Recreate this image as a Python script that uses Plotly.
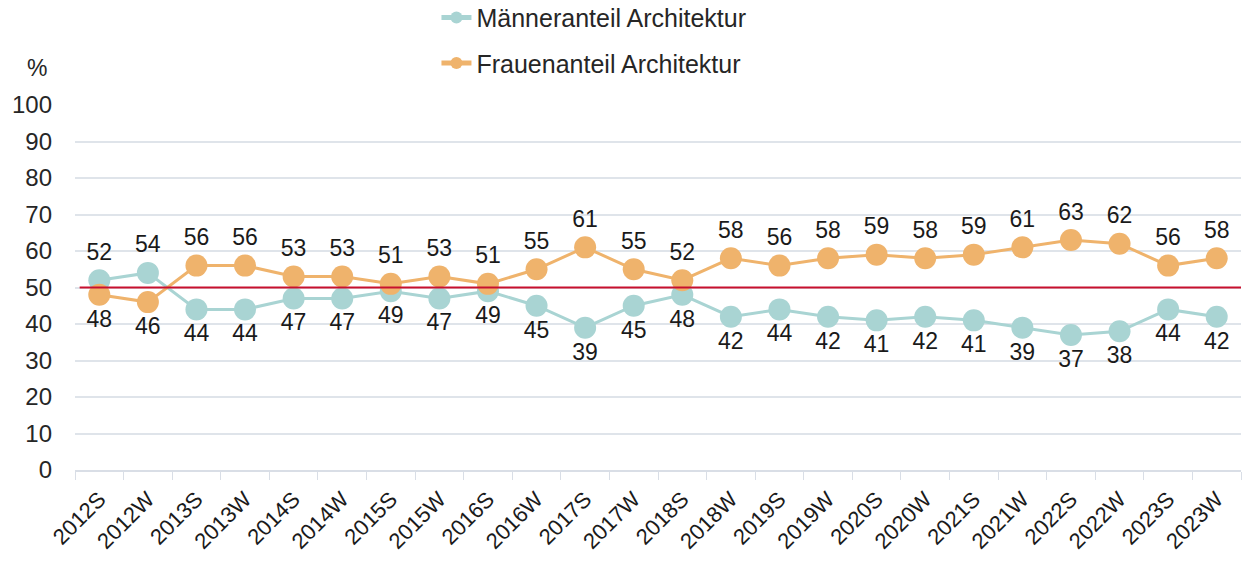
import plotly.graph_objects as go

semester = ["2012S", "2012W", "2013S", "2013W", "2014S", "2014W", "2015S", "2015W",
            "2016S", "2016W", "2017S", "2017W", "2018S", "2018W", "2019S", "2019W",
            "2020S", "2020W", "2021S", "2021W", "2022S", "2022W", "2023S", "2023W"]
maenner = [52, 54, 44, 44, 47, 47, 49, 47, 49, 45, 39, 45, 48, 42, 44, 42, 41, 42, 41, 39, 37, 38, 44, 42]
frauen = [48, 46, 56, 56, 53, 53, 51, 53, 51, 55, 61, 55, 52, 58, 56, 58, 59, 58, 59, 61, 63, 62, 56, 58]
referenz = 50

FONT = "Liberation Sans, Arial, sans-serif"
TEAL = "#a9d4d3"
ORANGE = "#efb36c"
TEXT = "#262626"

# labels of the upper series go above the point, the lower ones below
pos_m = ["top center" if m > f else "bottom center" for m, f in zip(maenner, frauen)]
pos_f = ["top center" if f > m else "bottom center" for m, f in zip(maenner, frauen)]

fig = go.Figure()
fig.add_trace(go.Scatter(
    x=semester, y=maenner, name="Männeranteil Architektur", mode="lines+markers+text",
    legendgroup="m",
    line=dict(color=TEAL, width=3), marker=dict(color=TEAL, size=22),
    text=[str(v) for v in maenner], textposition=pos_m,
    textfont=dict(family=FONT, size=23, color="#1a1a1a"), cliponaxis=False))
fig.add_trace(go.Scatter(
    x=semester, y=frauen, name="Frauenanteil Architektur", mode="lines+markers+text",
    legendgroup="f",
    line=dict(color=ORANGE, width=3), marker=dict(color=ORANGE, size=22),
    text=[str(v) for v in frauen], textposition=pos_f,
    textfont=dict(family=FONT, size=23, color="#1a1a1a"), cliponaxis=False))

fig.add_shape(type="line", xref="paper", x0=0.004, x1=1, yref="y", y0=referenz, y1=referenz,
              line=dict(color="#c8102e", width=2), layer="above")

# unit label above the y axis
fig.add_annotation(text="%", xref="paper", yref="paper", x=-0.033, y=1.101,
                   xanchor="center", yanchor="middle",
                   showarrow=False, font=dict(family=FONT, size=23, color=TEXT))

fig.update_layout(
    width=1243, height=566,
    margin=dict(l=75, r=2, t=105, b=96, autoexpand=False),
    paper_bgcolor="white", plot_bgcolor="white",
    font=dict(family=FONT, size=20, color=TEXT),
    showlegend=True,
    legend=dict(x=0.31, y=1.302, xanchor="left", yanchor="top",
                font=dict(family=FONT, size=25, color=TEXT),
                traceorder="grouped", tracegroupgap=10,
                itemsizing="constant", bgcolor="rgba(0,0,0,0)"),
    xaxis=dict(type="category", range=[-0.5, len(semester) - 0.5], tickangle=-45,
               tickson="boundaries", ticks="outside", ticklen=8, tickcolor="#d9dee6",
               ticklabelstandoff=6,
               showgrid=False, showline=True, linecolor="#d9dee6", linewidth=1.5,
               tickfont=dict(family=FONT, size=22, color="#1a1a1a")),
    yaxis=dict(range=[0, 100], dtick=10, showgrid=True, gridcolor="#dfe4ea", gridwidth=1.5,
               zeroline=False, showline=False, ticks="", ticklabelstandoff=22,
               tickfont=dict(family=FONT, size=24, color=TEXT)),
)

fig.write_html("out.html")
